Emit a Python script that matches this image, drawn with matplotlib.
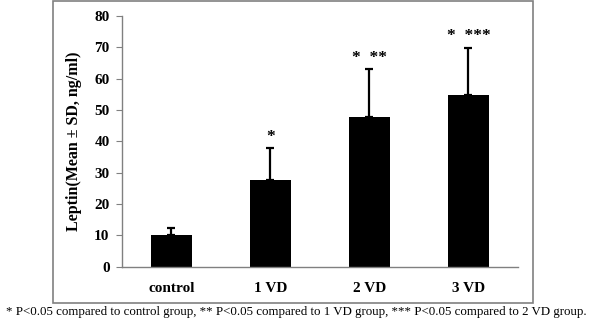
import numpy as np
import matplotlib
matplotlib.use("Agg")
import matplotlib.pyplot as plt
from matplotlib.patches import Rectangle

# ---------------- data ----------------
groups = ["control", "1 VD", "2 VD", "3 VD"]
means = [10.1, 27.6, 47.8, 54.7]
sd = [2.1, 10.1, 15.1, 15.0]
marks = ["", "*", "*  **", "*  ***"]
footnote = ("* P<0.05 compared to control group, ** P<0.05 compared to 1 VD group, "
            "*** P<0.05 compared to 2 VD group.")
# --------------------------------------

plt.rcParams["font.family"] = ["Liberation Serif", "DejaVu Serif"]

fig = plt.figure(figsize=(5.96, 3.36), dpi=100)
ax = fig.add_axes([0.2047, 0.2063, 0.6643, 0.7467])

x = np.arange(len(groups))
ax.bar(x, means, width=0.42, color="black", zorder=2)
ax.errorbar(x, means, yerr=[np.zeros(len(sd)), sd], fmt="none",
            ecolor="black", elinewidth=1.6, capsize=3, capthick=1.6, zorder=1)

for xi, m, s, lab in zip(x, means, sd, marks):
    if lab:
        ax.text(xi, m + s + 1.2, lab, ha="center", va="bottom",
                fontsize=12.5, fontweight="bold")

ax.set_xlim(-0.5, 3.5)
ax.set_ylim(0, 80)
ax.set_yticks(range(0, 81, 10))
ax.set_xticks(x)
ax.set_xticklabels(groups, fontsize=11, fontweight="bold")
for t in ax.get_yticklabels():
    t.set_fontsize(11)
    t.set_fontweight("bold")
ax.tick_params(axis="x", length=0, pad=11)
ax.tick_params(axis="y", length=4, color="#808080", pad=5)
ax.set_ylabel("Leptin(Mean ± SD, ng/ml)", fontsize=11.5, fontweight="bold")
ax.yaxis.set_label_coords(-0.101, 0.5)

for side in ("top", "right"):
    ax.spines[side].set_visible(False)
for side in ("left", "bottom"):
    ax.spines[side].set_color("#808080")
    ax.spines[side].set_linewidth(1)

# outer frame around the chart
fig.patches.append(Rectangle((0.089, 0.098), 0.805, 0.899, transform=fig.transFigure,
                             fill=False, edgecolor="#808080", linewidth=1.2))

fig.text(0.4966, 0.07, footnote, ha="center", va="center", fontsize=9.3)

fig.savefig("out.png", dpi=100)
